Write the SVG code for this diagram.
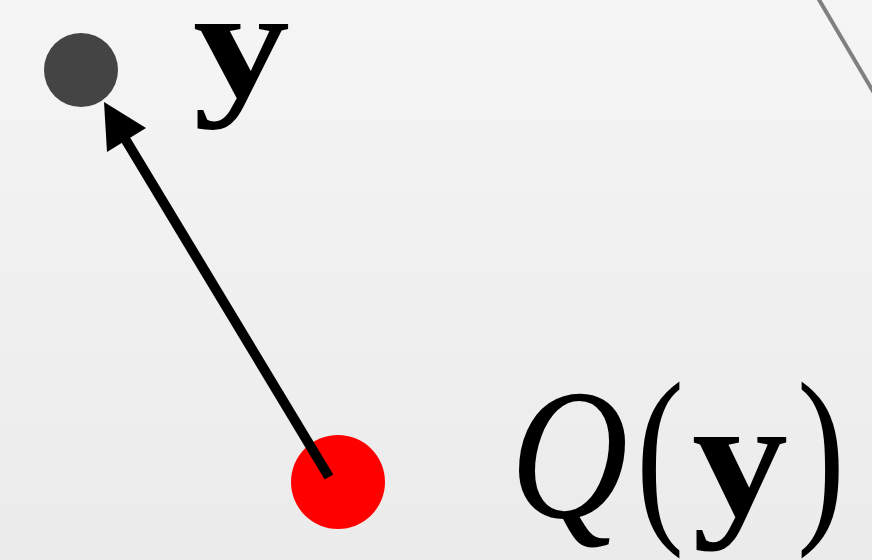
<svg xmlns="http://www.w3.org/2000/svg" width="872" height="560" viewBox="0 0 872 560">
<defs>
<linearGradient id="bg" x1="0" y1="0" x2="0" y2="1">
<stop offset="0" stop-color="#f5f5f5"/>
<stop offset="1" stop-color="#ebebeb"/>
</linearGradient>
</defs>
<style>
.m{font-family:"Liberation Serif","Times New Roman",serif;fill:#000}
.b{font-weight:bold}
.i{font-style:italic}
</style>
<rect width="872" height="560" fill="url(#bg)"/>
<line x1="818" y1="-2" x2="874" y2="93" stroke="#808080" stroke-width="4"/>
<g id="node-y">
<circle cx="81" cy="70" r="37" fill="#444444"/>
<text class="m b" x="193" y="97" font-size="156" textLength="97" lengthAdjust="spacingAndGlyphs">y</text>
</g>
<g id="node-Qy">
<circle cx="338" cy="482" r="47" fill="#ff0000"/>
<text class="m" y="517" font-size="195"><tspan class="i" x="510" font-size="187" textLength="118" lengthAdjust="spacingAndGlyphs">Q</tspan><tspan x="636" textLength="48" lengthAdjust="spacingAndGlyphs">(</tspan><tspan class="b" x="692" y="515" font-size="170" textLength="96" lengthAdjust="spacingAndGlyphs">y</tspan><tspan x="797" y="517" textLength="48" lengthAdjust="spacingAndGlyphs">)</tspan></text>
</g>
<g id="connectors">
<line x1="329" y1="477" x2="124" y2="137" stroke="#000" stroke-width="10"/>
<polygon points="104,102 107,152 146,128" fill="#000"/>
</g>
</svg>
